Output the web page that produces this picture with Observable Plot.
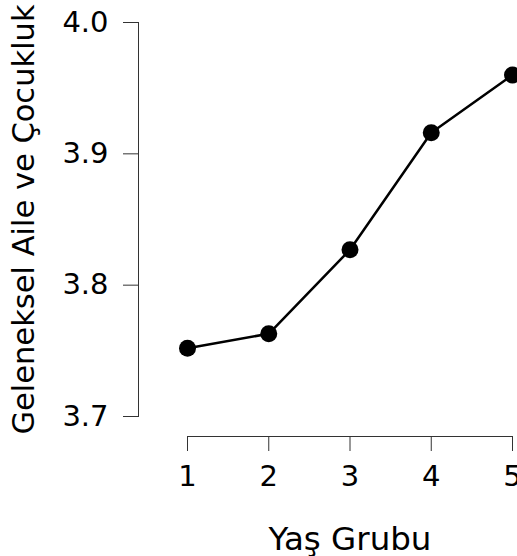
<!DOCTYPE html>
<html>
<head>
<meta charset="utf-8">
<script src="https://cdn.jsdelivr.net/npm/d3@7"></script>
<script src="https://cdn.jsdelivr.net/npm/@observablehq/plot@0.6"></script>
<style>
  html, body { margin: 0; padding: 0; background: white; overflow: hidden; }
</style>
</head>
<body>
<div id="chart"></div>
<script>
const ageGroups = [1, 2, 3, 4, 5];
const scores = [3.752, 3.763, 3.827, 3.916, 3.960];
const yTicks = [3.7, 3.8, 3.9, 4.0];
const xLabel = "Yaş Grubu";
const yLabel = "Geleneksel Aile ve Çocukluk";

const data = ageGroups.map((g, i) => ({group: g, score: scores[i]}));

const chart = Plot.plot({
  width: 517,
  height: 556,
  marginTop: 22,
  marginRight: 5,
  marginBottom: 140,
  marginLeft: 138,
  style: {fontFamily: "DejaVu Sans", fontSize: "29px", color: "black", background: "white"},
  x: {domain: [ageGroups[0], ageGroups[ageGroups.length - 1]], range: [187, 512]},
  y: {domain: [yTicks[0], yTicks[yTicks.length - 1]]},
  marks: [
    Plot.frame({anchor: "left", stroke: "#333"}),
    Plot.axisY(yTicks, {tickSize: 15, tickPadding: 15, tickFormat: d3.format(".1f"), label: null, stroke: "#333", fill: "black"}),
    Plot.ruleY([yTicks[0]], {x1: ageGroups[0], x2: ageGroups[ageGroups.length - 1], dy: 20, stroke: "#333"}),
    Plot.axisX(ageGroups, {tickSize: 15, tickPadding: 14, dy: 20, tickFormat: d3.format("d"), label: null, stroke: "#333", fill: "black"}),
    Plot.line(data, {x: "group", y: "score", stroke: "black", strokeWidth: 2.5}),
    Plot.dot(data, {x: "group", y: "score", r: 8.5, fill: "black", stroke: "none"}),
    Plot.text([yLabel], {frameAnchor: "left", textAnchor: "middle", rotate: -90, lineAnchor: "bottom", dx: -105, fontSize: 30.5, fill: "black"}),
    Plot.text([xLabel], {x: d3.mean(ageGroups), frameAnchor: "bottom", textAnchor: "middle", lineAnchor: "bottom", dy: 133, fontSize: 32.5, fill: "black"})
  ]
});
document.getElementById("chart").appendChild(chart);
</script>
</body>
</html>
